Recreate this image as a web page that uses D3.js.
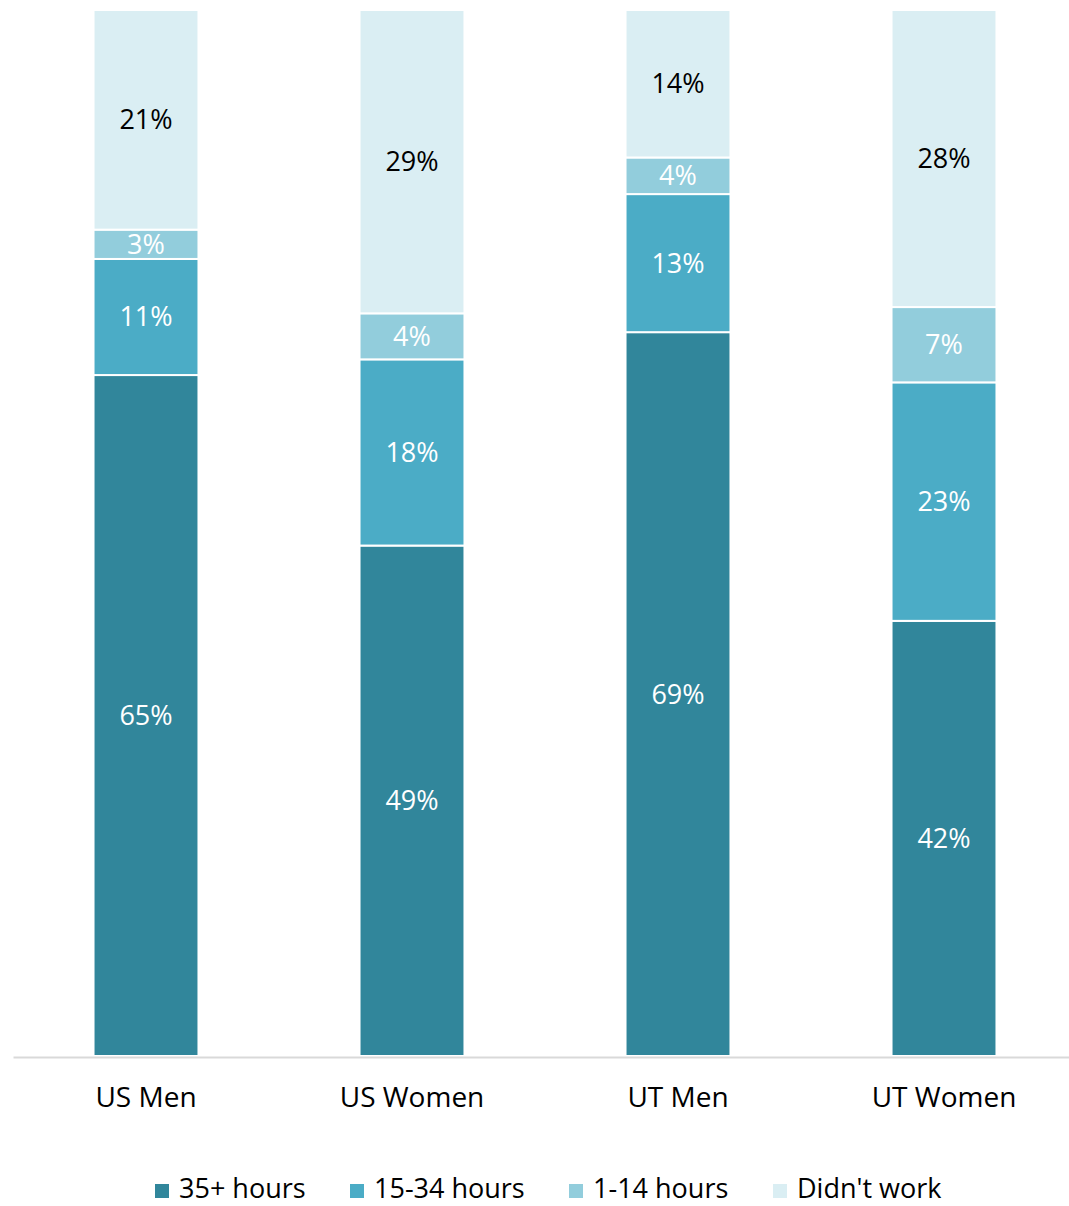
<!DOCTYPE html>
<html>
<head>
<meta charset="utf-8">
<script src="https://cdn.jsdelivr.net/npm/d3@7"></script>
<style>
  body { margin: 0; background: #fff; overflow: hidden; }
  svg { display: block; }
  svg text { font-family: "Open Sans", sans-serif; }
</style>
</head>
<body>
<div class="chart"></div>
<script>
// data (percent of each group)
var groups = ["US Men", "US Women", "UT Men", "UT Women"];
var seriesNames = ["35+ hours", "15-34 hours", "1-14 hours", "Didn't work"];
var hours35 = [65.1, 48.8, 69.2, 41.6];
var hours15 = [11.1, 17.8, 13.2, 22.8];
var hours1 = [2.8, 4.4, 3.5, 7.2];
var noWork = [21.0, 29.0, 14.1, 28.4];
var colors = ["#31869b", "#4bacc6", "#92cddc", "#daeef3"];
var labelColors = ["#fff", "#fff", "#fff", "#000"];

var width = 1069, height = 1206;
var svg = d3.select(".chart").append("svg").attr("width", width).attr("height", height);

var rows = groups.map(function (g, i) {
    return {group: g, s0: hours35[i], s1: hours15[i], s2: hours1[i], s3: noWork[i]};
});
var stack = d3.stack().keys(["s0", "s1", "s2", "s3"]);
var series = stack(rows);

var x = d3.scaleBand().domain(groups).range([13, 1077]).paddingInner(0.613).paddingOuter(0.3065);
var y = d3.scaleLinear().domain([0, 100]).range([1056, 10]);

var layer = svg.selectAll("g.layer").data(series).enter().append("g")
    .attr("class", "layer")
    .attr("fill", function (d, i) { return colors[i]; });

// white stroke gives the gaps between segments; widen by the stroke so bar edges stay put
layer.selectAll("rect").data(function (d) { return d; }).enter().append("rect")
    .attr("x", function (d) { return x(d.data.group) - 1; })
    .attr("width", x.bandwidth() + 2)
    .attr("y", function (d) { return y(d[1]); })
    .attr("height", function (d) { return y(d[0]) - y(d[1]); })
    .attr("stroke", "#fff")
    .attr("stroke-width", 2);

layer.selectAll("text").data(function (d, i) { return d.map(function (v) { v.idx = i; return v; }); })
    .enter().append("text")
    .attr("x", function (d) { return x(d.data.group) + x.bandwidth() / 2; })
    .attr("y", function (d) { return (y(d[0]) + y(d[1])) / 2; })
    .attr("dy", "0.35em")
    .attr("text-anchor", "middle")
    .attr("font-size", 27)
    .attr("fill", function (d) { return labelColors[d.idx]; })
    .text(function (d) { return Math.round(d[1] - d[0]) + "%"; });

// x axis
var xAxis = svg.append("g")
    .attr("transform", "translate(0,1057)")
    .call(d3.axisBottom(x).tickSize(0).tickPadding(30));
xAxis.select(".domain").attr("stroke", "#d9d9d9").attr("stroke-width", 2);
xAxis.selectAll("text").attr("font-size", 28).attr("fill", "#000")
    .style("font-family", "'Open Sans', sans-serif");

// legend (baseline kept high enough that the text box stays inside the page)
var legendX = [155, 350, 569, 773];
var legend = svg.selectAll("g.legend").data(seriesNames).enter().append("g")
    .attr("class", "legend")
    .attr("transform", function (d, i) { return "translate(" + legendX[i] + ",1189)"; });
legend.append("rect").attr("x", 0).attr("y", -5).attr("width", 14).attr("height", 14)
    .attr("fill", function (d, i) { return colors[i]; });
legend.append("text").attr("x", 24).attr("y", 9).attr("font-size", 27)
    .attr("fill", "#000").text(function (d) { return d; });
</script>
</body>
</html>
